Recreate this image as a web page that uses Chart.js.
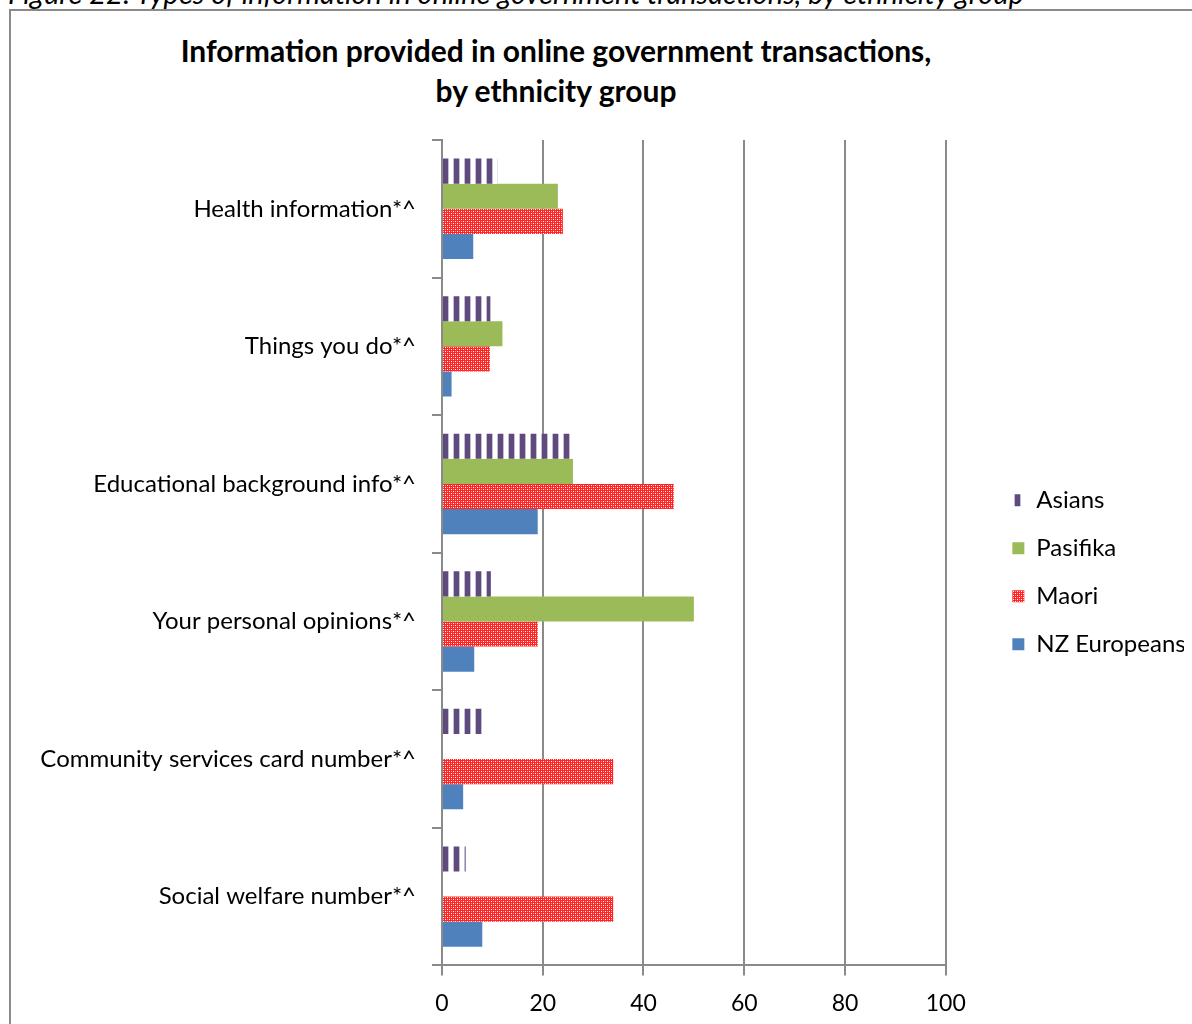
<!DOCTYPE html>
<html>
<head>
<meta charset="utf-8">
<script src="https://cdn.jsdelivr.net/npm/chart.js@4"></script>
<style>
  html, body { margin: 0; padding: 0; background: #fff; }
  body { width: 1192px; height: 1024px; overflow: hidden; position: relative; font-family: Lato, "Open Sans", sans-serif; }
  #caption { position: absolute; left: 8px; top: -22px; font-size: 29px; line-height: 30px; font-style: italic; white-space: nowrap; color: #000; }
  #frame { position: absolute; left: 9px; top: 9px; width: 1200px; height: 1040px; border: 2px solid #8a8a8a; box-sizing: border-box; }
  #title { position: absolute; left: 0; top: 30px; width: 1112px; text-align: center; font-size: 30px; line-height: 40px; font-weight: bold; color: #000; }
  #wrap { position: absolute; left: 10px; top: 16px; width: 1182px; height: 1040px; }
</style>
</head>
<body>
<div id="caption">Figure 22: Types of information in online government transactions, by ethnicity group</div>
<div id="frame"></div>
<div id="title">Information provided in online government transactions,<br>by ethnicity group</div>
<div id="wrap"><canvas id="myChart"></canvas></div>
<script>
// Percent of each group providing the information
const categories = [
  'Health information*^',
  'Things you do*^',
  'Educational background info*^',
  'Your personal opinions*^',
  'Community services card number*^',
  'Social welfare number*^'
];
const asians = [11, 9.6, 26, 9.7, 8.7, 4.7];
const pasifika = [23, 12, 26, 50, 0, 0];
const maori = [24, 9.5, 46, 19, 34, 34];
const nzEuropeans = [6.2, 1.9, 19, 6.4, 4.2, 8];
const xTicks = [0, 20, 40, 60, 80, 100];

const FONT = 'Lato';

// vertical purple stripes
function stripes() {
  const c = document.createElement('canvas');
  c.width = 11; c.height = 11;
  const g = c.getContext('2d');
  g.fillStyle = '#ffffff'; g.fillRect(0, 0, 11, 11);
  g.fillStyle = '#c6bdd4'; g.fillRect(0, 0, 7, 11);
  g.fillStyle = '#5e4a7d'; g.fillRect(1, 0, 5, 11);
  const p = g.createPattern(c, 'repeat');
  p.setTransform(new DOMMatrix().translate(432, 0));
  return p;
}

// red fill with small white dots
function dots() {
  const c = document.createElement('canvas');
  c.width = 4; c.height = 4;
  const g = c.getContext('2d');
  g.fillStyle = '#ff2424'; g.fillRect(0, 0, 4, 4);
  g.fillStyle = '#ffffff'; g.fillRect(1, 1, 1, 1); g.fillRect(3, 3, 1, 1);
  g.fillStyle = '#ff9c9c'; g.fillRect(3, 1, 1, 1); g.fillRect(1, 3, 1, 1);
  return g.createPattern(c, 'repeat');
}

const gridGrey = '#8a8a8a';

const chart = new Chart(document.getElementById('myChart'), {
  type: 'bar',
  data: {
    labels: categories,
    datasets: [
      { label: 'Asians', data: asians, backgroundColor: stripes() },
      { label: 'Pasifika', data: pasifika, backgroundColor: '#9bbb59' },
      { label: 'Maori', data: maori, backgroundColor: dots() },
      { label: 'NZ Europeans', data: nzEuropeans, backgroundColor: '#4f81bd' }
    ]
  },
  options: {
    indexAxis: 'y',
    responsive: true,
    maintainAspectRatio: false,
    animation: false,
    datasets: { bar: { categoryPercentage: 0.73, barPercentage: 1.0 } },
    layout: { padding: { top: 124, bottom: 25, left: 0, right: 8 } },
    scales: {
      x: {
        min: 0, max: 100,
        afterBuildTicks: (scale) => { scale.ticks = xTicks.map(v => ({ value: v })); },
        ticks: { color: '#000', padding: 14, font: { family: FONT, size: 23 } },
        grid: { color: gridGrey, lineWidth: 2, tickLength: 10 },
        border: { color: gridGrey, width: 2 }
      },
      y: {
        afterFit: (scale) => { scale.width = 432; },
        ticks: { color: '#000', padding: 16, font: { family: FONT, size: 24 } },
        grid: { drawOnChartArea: false, color: gridGrey, lineWidth: 2, tickLength: 10 },
        border: { color: gridGrey, width: 2 }
      },
      // empty strip between the plot and the legend
      gap: {
        type: 'linear', axis: 'y', position: 'right',
        afterFit: (scale) => { scale.width = 42.6; },
        ticks: { display: false },
        grid: { display: false },
        border: { display: false }
      }
    },
    plugins: {
      legend: {
        position: 'right',
        fullSize: false,
        // blank title only pushes the items down a little
        title: { display: true, text: ' ', padding: 0, font: { size: 10, lineHeight: 3.9 } },
        labels: {
          color: '#000', boxWidth: 12, boxHeight: 12, padding: 24,
          font: { family: FONT, size: 24 }
        }
      },
      tooltip: { enabled: false }
    }
  }
});

// re-measure text once the font is ready
document.fonts.ready.then(() => chart.update());
</script>
</body>
</html>
